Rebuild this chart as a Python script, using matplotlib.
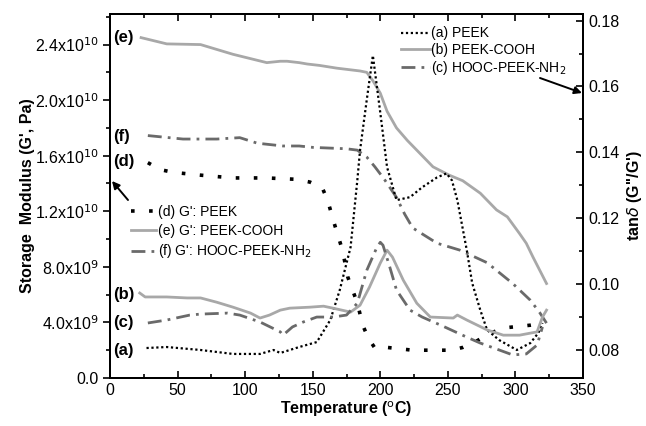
import matplotlib
matplotlib.use('Agg')
import matplotlib.pyplot as plt
from matplotlib.ticker import MultipleLocator, FuncFormatter

plt.rcParams['font.family'] = ['Liberation Sans', 'DejaVu Sans']

# tan delta curves (right axis)
t_a = [27, 42, 67, 91, 111, 121, 126, 140, 153, 163, 170, 178, 183, 185, 190, 194.5, 200, 205, 212, 222, 231, 242, 249, 253, 257, 264, 268, 274, 279, 288, 301, 311, 317, 320]
tan_a = [0.0806, 0.0809, 0.0800, 0.0788, 0.0788, 0.0800, 0.0791, 0.0809, 0.0824, 0.0891, 0.0982, 0.1112, 0.1315, 0.1406, 0.1560, 0.1694, 0.1520, 0.1355, 0.1255, 0.1264, 0.1294, 0.1324, 0.1336, 0.1315, 0.1255, 0.1103, 0.1003, 0.0921, 0.0861, 0.0830, 0.0800, 0.0821, 0.0852, 0.0882]

t_b = [22, 26, 42, 57, 67, 79, 91, 104, 111, 118, 126, 133, 148, 158, 165, 178, 185, 192, 200, 205, 209, 217, 227, 237, 254, 257, 264, 279, 291, 303, 316, 320, 323]
tan_b = [0.0973, 0.0961, 0.0961, 0.0958, 0.0958, 0.0945, 0.0930, 0.0912, 0.0897, 0.0906, 0.0921, 0.0927, 0.0930, 0.0933, 0.0927, 0.0915, 0.0936, 0.0991, 0.1064, 0.1103, 0.1082, 0.1012, 0.0942, 0.0900, 0.0897, 0.0906, 0.0891, 0.0861, 0.0845, 0.0845, 0.0855, 0.0900, 0.0921]

t_c = [28, 42, 59, 67, 87, 96, 111, 126, 128, 135, 143, 153, 165, 175, 183, 190, 197.5, 200, 202, 207, 212, 222, 231, 246, 264, 274, 288, 298, 308, 316, 320]
tan_c = [0.0882, 0.0891, 0.0906, 0.0909, 0.0912, 0.0906, 0.0885, 0.0855, 0.0845, 0.0870, 0.0885, 0.0900, 0.0900, 0.0906, 0.0942, 0.1042, 0.1112, 0.1127, 0.1118, 0.1052, 0.0982, 0.0921, 0.0900, 0.0873, 0.0839, 0.0821, 0.0800, 0.0785, 0.0788, 0.0815, 0.0870]

# storage modulus curves (left axis), in Pa
t_d = [28, 37, 47, 67, 91, 116, 138, 148, 157, 161, 166, 172, 176, 183, 187, 191, 196, 205, 224, 242, 253, 261, 272, 281, 291, 301, 311, 320]
g_d = [15.5e9, 15.0e9, 14.8e9, 14.6e9, 14.4e9, 14.4e9, 14.3e9, 14.1e9, 13.7e9, 12.8e9, 11.1e9, 9.2e9, 7.25e9, 5.4e9, 3.8e9, 2.9e9, 2.15e9, 2.2e9, 2.0e9, 2.0e9, 2.0e9, 2.2e9, 2.7e9, 3.2e9, 3.6e9, 3.7e9, 3.8e9, 3.95e9]

t_e = [23, 42, 67, 91, 116, 126, 131, 140, 146, 155, 168, 185, 190, 194.5, 200, 205, 212, 220, 229, 239, 251, 261, 274, 286, 294, 303, 308, 313, 323]
g_e = [24.5e9, 24.05e9, 24.0e9, 23.3e9, 22.7e9, 22.8e9, 22.8e9, 22.7e9, 22.6e9, 22.5e9, 22.3e9, 22.1e9, 22.0e9, 21.4e9, 20.5e9, 19.2e9, 18.0e9, 17.1e9, 16.2e9, 15.2e9, 14.6e9, 14.2e9, 13.3e9, 12.1e9, 11.6e9, 10.4e9, 9.7e9, 8.7e9, 6.8e9]

t_f = [28, 54, 79, 96, 109, 128, 140, 150, 175, 183, 190, 196, 203, 212, 218, 224, 242, 259, 279, 298, 311, 318, 323]
g_f = [17.45e9, 17.2e9, 17.2e9, 17.3e9, 16.9e9, 16.7e9, 16.7e9, 16.6e9, 16.5e9, 16.4e9, 15.9e9, 15.2e9, 14.3e9, 13.0e9, 11.8e9, 10.8e9, 9.7e9, 9.2e9, 8.3e9, 6.8e9, 5.6e9, 4.7e9, 3.95e9]

gray = '#a8a8a8'
dark = '#6a6a6a'

fig = plt.figure(figsize=(6.46, 4.26), dpi=100)
ax = fig.add_axes([0.1703, 0.1127, 0.7322, 0.8544])
ax2 = ax.twinx()

ld, = ax.plot(t_d, g_d, color='black', lw=2.6, ls=(0, (1, 4)), label="(d) G': PEEK")
le, = ax.plot(t_e, g_e, color=gray, lw=2, label="(e) G': PEEK-COOH")
lf, = ax.plot(t_f, g_f, color=dark, lw=2, ls=(0, (5, 2.2, 1, 2.2)), label="(f) G': HOOC-PEEK-NH$_2$")

la, = ax2.plot(t_a, tan_a, color='black', lw=1.6, ls=(0, (1, 1.2)), label='(a) PEEK')
lb, = ax2.plot(t_b, tan_b, color=gray, lw=2, label='(b) PEEK-COOH')
lc, = ax2.plot(t_c, tan_c, color=dark, lw=2, ls=(0, (5, 2.2, 1, 2.2)), label='(c) HOOC-PEEK-NH$_2$')

ax.set_xlim(0, 350)
ax.set_ylim(0, 2.62e10)
ax2.set_ylim(0.0715, 0.182)

ax.xaxis.set_major_locator(MultipleLocator(50))
ax.xaxis.set_minor_locator(MultipleLocator(25))
ax.yaxis.set_major_locator(MultipleLocator(4e9))
ax.yaxis.set_minor_locator(MultipleLocator(2e9))
ax2.yaxis.set_major_locator(MultipleLocator(0.02))
ax2.yaxis.set_minor_locator(MultipleLocator(0.01))


def gfmt(v, pos):
    if v == 0:
        return '0.0'
    e = 10 if v >= 1e10 else 9
    return '%.1fx10$^{%d}$' % (v / 10**e, e)


ax.yaxis.set_major_formatter(FuncFormatter(gfmt))
ax2.yaxis.set_major_formatter(FuncFormatter(lambda v, p: '%.2f' % v))

ax.tick_params(axis='x', which='both', direction='in', top=True, labelsize=11.5, width=1.2)
ax.tick_params(axis='x', which='major', length=5)
ax.tick_params(axis='x', which='minor', length=3)
ax.tick_params(axis='y', which='major', direction='out', length=5, width=1.2, labelsize=11.5)
ax.tick_params(axis='y', which='minor', direction='out', length=3, width=1.2)
ax2.tick_params(axis='y', which='major', direction='in', length=5, width=1.2, labelsize=11.5)
ax2.tick_params(axis='y', which='minor', direction='in', length=3, width=1.2)
for s in ax.spines.values():
    s.set_linewidth(1.4)
for s in ax2.spines.values():
    s.set_linewidth(1.4)

ax.set_xlabel('Temperature ($^{\\rm o}$C)', fontsize=11.5, fontweight='bold', labelpad=1)
ax.set_ylabel("Storage  Modulus (G', Pa)", fontsize=11.5, fontweight='bold', labelpad=0)
ax2.set_ylabel("tan$\\delta$ (G''/G')", fontsize=11.5, fontweight='bold', labelpad=4)

# curve tags
tags = ['(e)', '(f)', '(d)', '(b)', '(c)', '(a)']
tag_y = [24.5e9, 17.4e9, 15.6e9, 6.0e9, 4.0e9, 2.0e9]
for s, y in zip(tags, tag_y):
    ax.text(2, y, s, fontsize=12, fontweight='bold', va='center', ha='left')

leg1 = ax.legend(handles=[ld, le, lf], loc='upper left', bbox_to_anchor=(0.03, 0.495),
                 frameon=False, fontsize=10, handlelength=1.8, handletextpad=0.1,
                 labelspacing=0.35, borderpad=0)
leg2 = ax2.legend(handles=[la, lb, lc], loc='upper left', bbox_to_anchor=(0.6, 0.985),
                  frameon=False, fontsize=10, handlelength=2.1, handletextpad=0.1,
                  labelspacing=0.15, borderpad=0)

# arrows pointing to the axes
ax.annotate('', xy=(112, 245), xycoords='figure pixels', xytext=(128, 226), textcoords='figure pixels',
            arrowprops=dict(arrowstyle='-|>', color='black', lw=1.4, mutation_scale=11, shrinkA=0, shrinkB=0))
ax.annotate('', xy=(582, 333), xycoords='figure pixels', xytext=(540, 348), textcoords='figure pixels',
            arrowprops=dict(arrowstyle='-|>', color='black', lw=1.4, mutation_scale=11, shrinkA=0, shrinkB=0))

fig.savefig('out.png', dpi=100)
